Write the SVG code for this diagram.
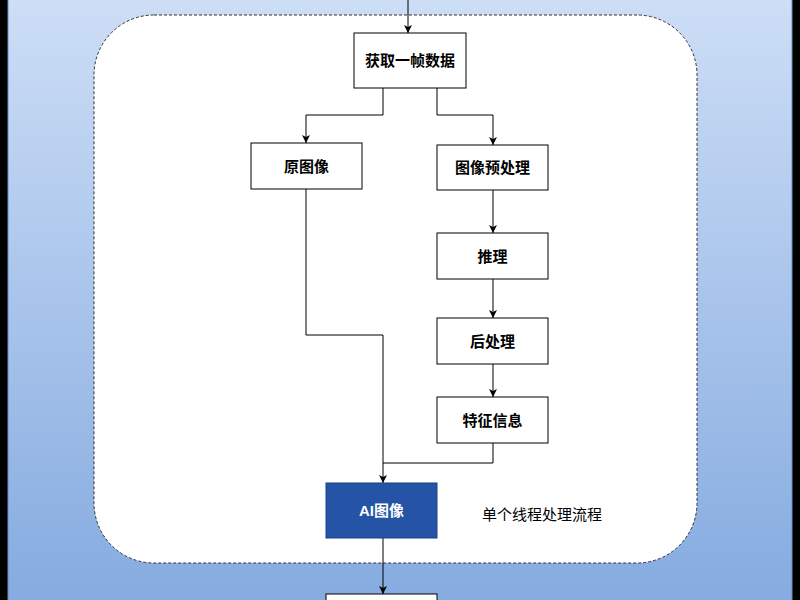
<svg xmlns="http://www.w3.org/2000/svg" width="800" height="600" viewBox="0 0 800 600">
<defs>
<linearGradient id="bg" x1="0" y1="0" x2="0" y2="1"><stop offset="0" stop-color="#d4e3f8"/><stop offset="1" stop-color="#7ea6de"/></linearGradient>
<marker id="ah" markerWidth="10" markerHeight="10" refX="9" refY="5" orient="auto" markerUnits="userSpaceOnUse"><path d="M1,1 L9,5 L1,9 L3,5 Z" fill="#000"/></marker>
<style>
.box{fill:#fff;stroke:#000;stroke-width:1}
.t{font-family:"Liberation Sans","Noto Sans CJK SC",sans-serif;font-size:15px;font-weight:bold;text-anchor:middle;dominant-baseline:central}
.c{fill:none;stroke:#000;stroke-width:1;marker-end:url(#ah)}
.c2{fill:none;stroke:#000;stroke-width:1}
</style>
</defs>
<rect width="800" height="600" fill="#000"/>
<rect x="8" y="-60" width="784" height="720" rx="60" fill="url(#bg)" stroke="#6c8ebf"/>
<rect x="94" y="15" width="603" height="548" rx="60" fill="#fff" stroke="#333" stroke-dasharray="3,2"/>
<g id="connectors">
<path class="c" d="M408,0 V33"/>
<path class="c" d="M383,88 V115 H306 V143"/>
<path class="c" d="M437,88 V115 H493 V145"/>
<path class="c" d="M493,190 V233"/>
<path class="c" d="M493,279 V318"/>
<path class="c" d="M493,364 V397"/>
<path class="c" d="M306,189 V335 H383 V483"/>
<path class="c2" d="M493,443 V463 H383"/>
<path class="c" d="M383,538 V594"/>
</g>
<g id="n1"><rect class="box" x="354" y="33" width="112" height="55"/><text class="t" x="410" y="60.5">获取一帧数据</text></g>
<g id="n2"><rect class="box" x="251" y="143" width="111" height="46"/><text class="t" x="306.5" y="166">原图像</text></g>
<g id="n3"><rect class="box" x="437" y="145" width="111" height="45"/><text class="t" x="492.5" y="167.5">图像预处理</text></g>
<g id="n4"><rect class="box" x="437" y="233" width="111" height="46"/><text class="t" x="492.5" y="256">推理</text></g>
<g id="n5"><rect class="box" x="437" y="318" width="111" height="46"/><text class="t" x="492.5" y="341">后处理</text></g>
<g id="n6"><rect class="box" x="437" y="397" width="111" height="46"/><text class="t" x="492.5" y="420">特征信息</text></g>
<g id="n7"><rect x="326" y="483" width="111" height="55" fill="#2553a6" stroke="#1a3f85"/><text class="t" x="381.5" y="510.5" fill="#fff">AI图像</text></g>
<g id="n8"><rect class="box" x="326" y="594" width="111" height="40"/></g>
<text x="482" y="514" font-family="'Liberation Sans','Noto Sans CJK SC',sans-serif" font-size="15" dominant-baseline="central">单个线程处理流程</text>
</svg>
